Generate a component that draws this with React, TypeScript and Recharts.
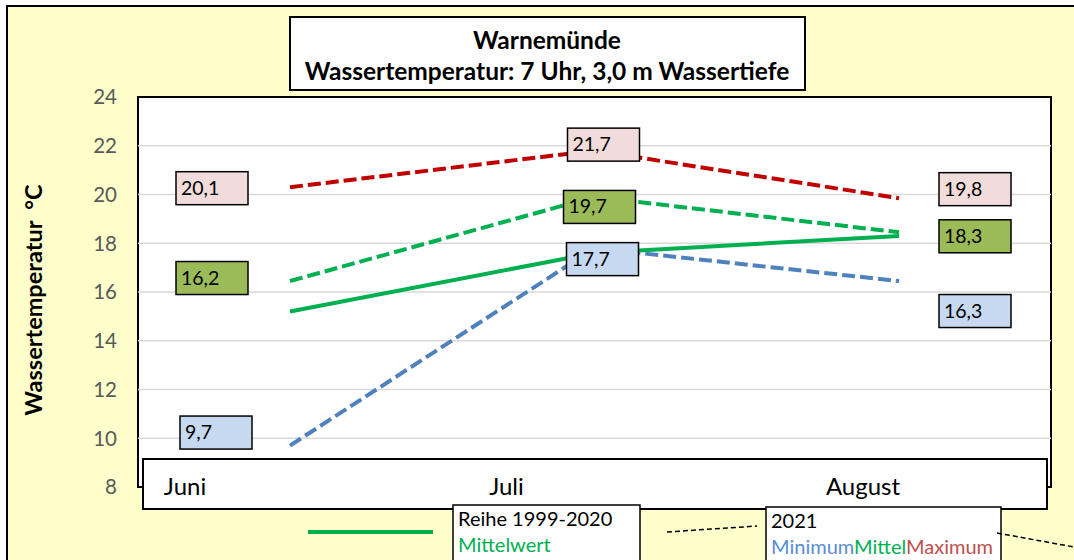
import React from "react";
import { LineChart, Line, XAxis, YAxis, CartesianGrid, LabelList } from "recharts";

// categories and values
const months = ["Juni", "Juli", "August"];
const mean1999to2020 = [15.2, 17.6, 18.3];
const min2021 = [9.7, 17.8, 16.45];
const mean2021 = [16.45, 19.9, 18.45];
const max2021 = [20.3, 21.8, 19.85];
// values printed in the label boxes
const min2021Labels = [9.7, 17.7, 16.3];
const mean2021Labels = [16.2, 19.7, 18.3];
const max2021Labels = [20.1, 21.7, 19.8];
const yTicks = [8, 10, 12, 14, 16, 18, 20, 22, 24];
const gridValues = [10, 12, 14, 16, 18, 20, 22];

const fmt = (v: number) => v.toFixed(1).replace(".", ",");

const data = months.map((m, i) => ({
  month: m,
  longMean: mean1999to2020[i],
  min: min2021[i],
  mean: mean2021[i],
  max: max2021[i],
  minLabel: fmt(min2021Labels[i]),
  meanLabel: fmt(mean2021Labels[i]),
  maxLabel: fmt(max2021Labels[i]),
}));

const FONT = "Lato, 'Open Sans', sans-serif";

// hand placed label boxes: [dx of box left from point, dy of box centre from point]
const nudgeMax = [[-114, 1], [-27, -6], [40, -9]];
const nudgeMean = [[-114, -3], [-31, 10], [40, 4]];
const nudgeMin = [[-110, -13], [-28, 11], [40, 30]];

const boxLabel = (fill: string, nudge: number[][]) => (props: any) => {
  const { x, y, value, index } = props;
  const [dx, dy] = nudge[index] || [0, 0];
  const bx = Number(x) + dx;
  const by = Number(y) + dy - 16.5;
  return (
    <g>
      <rect x={bx} y={by} width={72} height={33} fill={fill} stroke="#000" strokeWidth={1.5} />
      <text x={bx + 5} y={by + 23} fontSize={19.5} fontFamily={FONT} fill="#000">
        {value}
      </text>
    </g>
  );
};

// month names sit in a drawn box, not under the category centres
const monthShift = [-105, -88, -36];
const MonthTick = (props: any) => {
  const { x, y, payload, index } = props;
  return (
    <text x={x + monthShift[index]} y={y + 8} textAnchor="middle" fontSize={24} fontFamily={FONT} fill="#000">
      {payload.value}
    </text>
  );
};

export default function App() {
  return (
    <div style={{ position: "fixed", left: 0, top: 0, width: 1074, height: 560, overflow: "hidden" }}>
      <svg width={1074} height={560} style={{ position: "absolute", left: 0, top: 0 }}>
        <rect x={7} y={6} width={1100} height={600} fill="#FFFFCC" stroke="#000" strokeWidth={2} />
        <rect x={138} y={97} width={913} height={390} fill="#fff" stroke="#000" strokeWidth={2} />
        <rect x={143} y={459} width={904} height={50} fill="#fff" stroke="#000" strokeWidth={2} />
        <text
          transform="translate(42,300) rotate(-90)"
          textAnchor="middle"
          fontSize={23.5}
          fontWeight="bold"
          fontFamily={FONT}
          fill="#000"
          style={{ whiteSpace: "pre" }}
        >
          Wassertemperatur  °C
        </text>
      </svg>

      <div style={{ position: "absolute", left: 0, top: 0 }}>
        <LineChart width={1074} height={560} data={data} margin={{ top: 97, right: 23, bottom: 43, left: 78 }}>
          <CartesianGrid vertical={false} stroke="#d9d9d9" strokeWidth={1.5} horizontalValues={gridValues} />
          <XAxis
            dataKey="month"
            height={30}
            padding={{ left: 152, right: 152 }}
            axisLine={false}
            tickLine={false}
            tickSize={0}
            tickMargin={0}
            tick={<MonthTick />}
            interval={0}
          />
          <YAxis
            width={60}
            domain={[8, 24]}
            ticks={yTicks}
            axisLine={false}
            tickLine={false}
            tickMargin={15}
            tick={{ fill: "#595959", fontSize: 20.5, fontFamily: FONT }}
          />
          <Line
            dataKey="longMean"
            type="linear"
            stroke="#00B050"
            strokeWidth={4}
            dot={false}
            activeDot={false}
            isAnimationActive={false}
          />
          <Line
            dataKey="min"
            type="linear"
            stroke="#4F81BD"
            strokeWidth={4}
            strokeDasharray="13 5"
            dot={false}
            activeDot={false}
            isAnimationActive={false}
          >
            <LabelList dataKey="minLabel" content={boxLabel("#C6D9F1", nudgeMin)} />
          </Line>
          <Line
            dataKey="mean"
            type="linear"
            stroke="#00B050"
            strokeWidth={4}
            strokeDasharray="13 5"
            dot={false}
            activeDot={false}
            isAnimationActive={false}
          >
            <LabelList dataKey="meanLabel" content={boxLabel("#9BBB59", nudgeMean)} />
          </Line>
          <Line
            dataKey="max"
            type="linear"
            stroke="#C00000"
            strokeWidth={4}
            strokeDasharray="13 5"
            dot={false}
            activeDot={false}
            isAnimationActive={false}
          >
            <LabelList dataKey="maxLabel" content={boxLabel("#F2DCDB", nudgeMax)} />
          </Line>
        </LineChart>
      </div>

      <svg width={1074} height={560} style={{ position: "absolute", left: 0, top: 0, pointerEvents: "none" }}>
        {/* title */}
        <rect x={290} y={17} width={515} height={73} fill="#fff" stroke="#000" strokeWidth={2} />
        <text x={547} y={49} textAnchor="middle" fontSize={24.5} fontWeight="bold" fontFamily={FONT} fill="#000">
          Warnemünde
        </text>
        <text x={547} y={80} textAnchor="middle" fontSize={24.5} fontWeight="bold" fontFamily={FONT} fill="#000">
          Wassertemperatur: 7 Uhr, 3,0 m Wassertiefe
        </text>

        {/* legend */}
        <line x1={308} y1={532} x2={433} y2={532} stroke="#00B050" strokeWidth={4} />
        <rect x={453} y={505} width={187} height={70} fill="#fff" stroke="#000" strokeWidth={1.5} />
        <text x={458} y={526} fontSize={20} fontFamily={FONT} fill="#000">Reihe 1999-2020</text>
        <text x={458} y={552} fontSize={20} fontFamily={FONT} fill="#00B050">Mittelwert</text>

        <line x1={667} y1={532} x2={757} y2={526} stroke="#000" strokeWidth={1.5} strokeDasharray="5 3" />
        <rect x={766} y={507} width={235} height={70} fill="#fff" stroke="#000" strokeWidth={1.5} />
        <text x={771} y={528} fontSize={20} fontFamily={FONT} fill="#000">2021</text>
        <text x={771} y={554} fontSize={20} fontFamily={FONT}>
          <tspan fill="#558ED5">Minimum</tspan>
          <tspan fill="#00B050">Mittel</tspan>
          <tspan fill="#C0504D">Maximum</tspan>
        </text>
        <line x1={997} y1={533} x2={1074} y2={547} stroke="#000" strokeWidth={1.5} strokeDasharray="5 3" />
      </svg>
    </div>
  );
}
